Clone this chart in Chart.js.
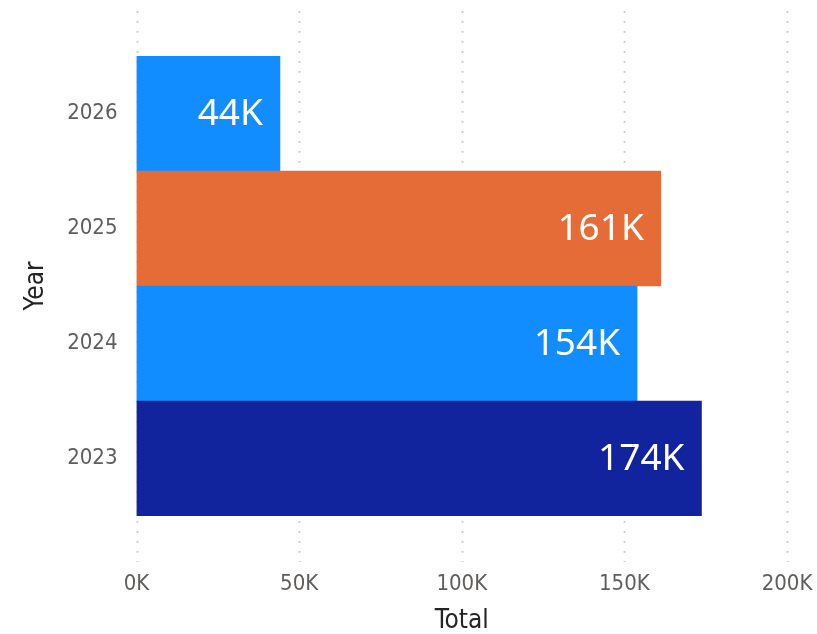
<!DOCTYPE html>
<html>
<head>
<meta charset="utf-8">
<script src="https://cdn.jsdelivr.net/npm/chart.js@4"></script>
<style>
  html, body { margin: 0; padding: 0; background: #fff; }
  #wrap { width: 817px; height: 634px; }
</style>
</head>
<body>
<div id="wrap"><canvas id="totalChart"></canvas></div>
<script>
// dados
const years = ['2026', '2025', '2024', '2023'];
const totals = [44100, 161200, 153900, 173700];
const barColors = ['#118DFF', '#E66C37', '#118DFF', '#12239E'];
const xTicks = [0, 50000, 100000, 150000, 200000];

const tickFont = { family: 'DejaVu Sans Condensed', size: 22 };
const titleFont = { family: 'DejaVu Sans Condensed', size: 26, lineHeight: 1 };

// linhas de grade pontilhadas, um pouco além da área das barras
const dottedGrid = {
    id: 'dottedGrid',
    beforeDatasetsDraw(chart) {
        const { ctx, chartArea, scales } = chart;
        ctx.save();
        ctx.strokeStyle = '#C8C6C4';
        ctx.lineWidth = 1.8;
        ctx.setLineDash([1.8, 8.2]);
        scales.x.ticks.forEach(t => {
            const x = Math.round(scales.x.getPixelForValue(t.value)) + 0.5;
            ctx.beginPath();
            ctx.moveTo(x, chartArea.top - 45);
            ctx.lineTo(x, chartArea.bottom + 46);
            ctx.stroke();
        });
        ctx.restore();
    }
};

// rótulos de dados dentro da ponta da barra
const barLabels = {
    id: 'barLabels',
    afterDatasetsDraw(chart) {
        const { ctx } = chart;
        const meta = chart.getDatasetMeta(0);
        ctx.save();
        ctx.fillStyle = '#FFFFFF';
        ctx.font = '37px "Noto Sans", "Open Sans", sans-serif';
        ctx.textAlign = 'right';
        ctx.textBaseline = 'middle';
        meta.data.forEach((bar, i) => {
            const txt = Math.round(totals[i] / 1000) + 'K';
            ctx.fillText(txt, bar.x - 17, bar.y + 1);
        });
        ctx.restore();
    }
};

new Chart(document.getElementById('totalChart').getContext('2d'), {
    type: 'bar',
    data: {
        labels: years,
        datasets: [{
            label: 'Total',
            data: totals,
            backgroundColor: barColors,
            borderWidth: 0,
            categoryPercentage: 1,
            barPercentage: 1
        }]
    },
    options: {
        indexAxis: 'y',
        responsive: true,
        maintainAspectRatio: false,
        animation: false,
        layout: { padding: { top: 56, right: 30, left: 0, bottom: 0 } },
        scales: {
            x: {
                min: 0,
                max: 200000,
                afterBuildTicks: scale => { scale.ticks = xTicks.map(v => ({ value: v })); },
                afterFit: scale => {
                    scale.height = 118;
                    scale.paddingLeft = 0;
                    scale.paddingRight = 0;
                },
                grid: { display: false, drawTicks: false },
                border: { display: false },
                ticks: {
                    padding: 55,
                    color: '#605E5C',
                    font: tickFont,
                    maxRotation: 0,
                    callback: v => (v / 1000) + 'K'
                },
                title: {
                    display: true,
                    text: 'Total',
                    color: '#252423',
                    font: titleFont,
                    padding: { top: 0, bottom: 0 }
                }
            },
            y: {
                afterFit: scale => { scale.width = 136.5; },
                grid: { display: false, drawTicks: false },
                border: { display: false },
                ticks: {
                    padding: 19,
                    color: '#605E5C',
                    font: tickFont
                },
                title: {
                    display: true,
                    text: 'Year',
                    color: '#252423',
                    font: titleFont,
                    padding: { top: 23, bottom: 0 }
                }
            }
        },
        plugins: {
            legend: { display: false },
            tooltip: {
                callbacks: {
                    label: function (context) {
                        return `Total: ${Math.round(context.parsed.x / 1000)}K`;
                    }
                }
            }
        }
    },
    plugins: [dottedGrid, barLabels]
});
</script>
</body>
</html>
